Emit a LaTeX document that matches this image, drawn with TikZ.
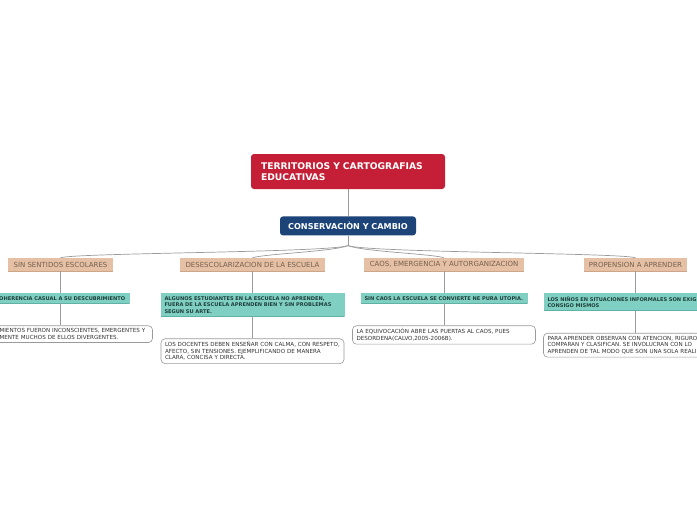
\documentclass[tikz,border=0pt]{standalone}
\usepackage{fontspec}
\setmainfont{DejaVu Sans}
\usetikzlibrary{positioning}
\definecolor{rood}{HTML}{C41F36}
\definecolor{blauw}{HTML}{1C4479}
\definecolor{zand}{HTML}{E5C0A4}
\definecolor{zandrand}{HTML}{CDA68A}
\definecolor{zandtekst}{HTML}{76604F}
\definecolor{munt}{HTML}{7FCFC2}
\definecolor{muntrand}{HTML}{5FB2A5}
\definecolor{munttekst}{HTML}{1F3F3A}
\definecolor{grijs}{HTML}{9A9A9A}
\definecolor{inkt}{HTML}{333333}
\tikzset{
  wortel/.style={rounded corners=3pt, fill=rood, text=white, align=left,
                 font=\bfseries\fontsize{9.2}{11}\selectfont, inner xsep=10pt,
                 text width=174pt, minimum height=35pt},
  kern/.style={rounded corners=3pt, fill=blauw, text=white,
               font=\bfseries\fontsize{8.1}{9}\selectfont,
               minimum width=136pt, minimum height=19pt},
  tak/.style={fill=zand, text=zandtekst, font=\fontsize{7}{8}\selectfont,
              minimum height=13pt, inner sep=0pt,
              path picture={\draw[zandrand, line width=1pt]
                (path picture bounding box.south west) --
                (path picture bounding box.south east);}},
  idee/.style={fill=munt, text=munttekst, align=left,
               font=\bfseries\fontsize{5.1}{6.5}\selectfont,
               inner xsep=4pt, inner ysep=3pt,
               path picture={\draw[muntrand, line width=1pt]
                 (path picture bounding box.south west) --
                 (path picture bounding box.south east);}},
  noot/.style={draw=grijs, fill=white, rounded corners=4pt, text=inkt,
               align=left, font=\fontsize{5.6}{6.5}\selectfont,
               inner xsep=4pt, inner ysep=3pt, line width=0.6pt},
  lijn/.style={draw=grijs, line width=0.7pt},
}
\begin{document}
\begin{tikzpicture}[x=1pt, y=-1pt, node distance=22pt]
  \useasboundingbox (0,0) rectangle (697,520);
  \clip (0,0) rectangle (697,520);
  \node[wortel] (root) at (348,171.5) {TERRITORIOS Y CARTOGRAFIAS\\EDUCATIVAS};
  \node[kern, below=27pt of root] (cons) {CONSERVACIÒN Y CAMBIO};
  % the four branches
  \node[tak, minimum width=105pt] (t1) at (60.5,264.5) {SIN SENTIDOS ESCOLARES};
  \node[tak, minimum width=145pt] (t2) at (252.5,264.5) {DESESCOLARIZACION DE LA ESCUELA};
  \node[tak, minimum width=160pt] (t3) at (444,264.5) {CAOS, EMERGENCIA Y AUTORGANIZACION};
  \node[tak, minimum width=103pt] (t4) at (635.5,264.5) {PROPENSION A APRENDER};
  % ideas
  \node[idee, text width=130pt, below=of t1] (i1) {COHERENCIA CASUAL A SU DESCUBRIMIENTO};
  \node[idee, text width=176pt, below=of t2] (i2) {ALGUNOS ESTUDIANTES EN LA ESCUELA NO APRENDEN,\\
        FUERA DE LA ESCUELA APRENDEN BIEN Y SIN PROBLEMAS\\SEGUN SU ARTE.};
  \node[idee, text width=159pt, below=of t3] (i3) {SIN CAOS LA ESCUELA SE CONVIERTE NE PURA UTOPIA.};
  \node[idee, text width=176pt, below=of t4] (i4) {LOS NIÑOS EN SITUACIONES INFORMALES SON EXIG\\CONSIGO MISMOS};
  % notes
  \node[noot, text width=149pt, below=of i1, xshift=13.5pt] (n1)
        {MIENTOS FUERON INCONSCIENTES, EMERGENTES Y\\MENTE MUCHOS DE ELLOS DIVERGENTES.};
  \node[noot, text width=175pt, below=of i2] (n2)
        {LOS DOCENTES DEBEN ENSEÑAR CON CALMA, CON RESPETO,\\AFECTO, SIN TENSIONES. EJEMPLIFICANDO DE MANERA\\CLARA, CONCISA Y DIRECTA.};
  \node[noot, text width=175pt, below=of i3] (n3)
        {LA EQUIVOCACIÓN ABRE LAS PUERTAS AL CAOS, PUES\\DESORDENA(CALVO,2005-2006B).};
  \node[noot, text width=176pt, below=of i4] (n4)
        {PARA APRENDER OBSERVAN CON ATENCION, RIGURO\\COMPARAN Y CLASIFICAN. SE INVOLUCRAN CON LO\\APRENDEN DE TAL MODO QUE SON UNA SOLA REALI};
  % connectors
  \draw[lijn] (root) -- (cons);
  \draw[lijn] (cons.south) -- ++(0,10) coordinate (hub);
  \draw[lijn] (hub) .. controls +(-20,7) and +(14,-5) .. (t1.north);
  \draw[lijn] (hub) .. controls +(-15,6) and +(12,-4) .. (t2.north);
  \draw[lijn] (hub) .. controls +(15,6) and +(-12,-4) .. (t3.north);
  \draw[lijn] (hub) .. controls +(20,7) and +(-14,-5) .. (t4.north);
  \foreach \k in {1,...,4}{
    \draw[lijn] (t\k) -- (i\k);
    \draw[lijn] (i\k.south) -- (i\k.south |- n\k.north);
  }
\end{tikzpicture}
\end{document}
